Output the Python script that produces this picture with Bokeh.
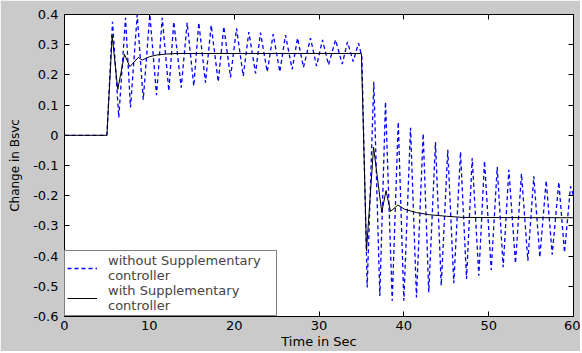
from bokeh.plotting import figure
from bokeh.models import Range1d, FixedTicker, LinearAxis, Legend, LegendItem
from bokeh.embed import file_html
from bokeh.resources import INLINE

# ---- data ----
x_ticks = [0, 10, 20, 30, 40, 50, 60]
x_tick_labels = ["0", "10", "20", "30", "40", "50", "60"]
y_ticks = [-0.6, -0.5, -0.4, -0.3, -0.2, -0.1, 0.0, 0.1, 0.2, 0.3, 0.4]
y_tick_labels = ["-0.6", "-0.5", "-0.4", "-0.3", "-0.2", "-0.1", "0", "0.1", "0.2", "0.3", "0.4"]

# without supplementary controller (blue dashed) : peaks / troughs
t_without = [0, 5.0, 5.66, 6.40, 7.19, 7.78, 8.57, 9.28, 10.06, 10.85, 11.52, 12.30,
             12.88, 13.76, 14.46, 15.24, 15.83, 16.62, 17.29, 18.12, 18.78, 19.57,
             20.28, 21.07, 21.73, 22.52, 23.10, 23.90, 24.60, 25.38, 26.05, 26.84,
             27.47, 28.17, 29.00, 29.71, 30.41, 31.12, 31.95, 32.74, 33.36, 34.03,
             34.66, 35.05, 35.68, 36.46, 37.17, 37.84, 38.63, 39.34, 40.00, 40.79,
             41.49, 42.28, 42.94, 43.73, 44.41, 45.18, 45.89, 46.68, 47.39, 48.06,
             48.84, 49.51, 50.30, 51.01, 51.71, 52.38, 53.16, 53.87, 54.62, 55.32,
             56.03, 56.78, 57.49, 58.27, 58.94, 59.65, 60.0]
v_without = [0, 0, 0.376, 0.059, 0.389, 0.092, 0.399, 0.118, 0.400, 0.133, 0.389, 0.147,
             0.376, 0.158, 0.373, 0.163, 0.373, 0.174, 0.365, 0.177, 0.360, 0.192,
             0.354, 0.196, 0.342, 0.205, 0.340, 0.210, 0.335, 0.210, 0.332, 0.218,
             0.322, 0.225, 0.322, 0.229, 0.316, 0.233, 0.316, 0.236, 0.309, 0.244,
             0.305, 0.260, -0.504, 0.177, -0.532, 0.111, -0.548, 0.044, -0.548, 0.025,
             -0.537, 0.006, -0.520, -0.022, -0.498, -0.048, -0.490, -0.055, -0.476, -0.075,
             -0.465, -0.085, -0.446, -0.105, -0.437, -0.114, -0.424, -0.127, -0.415, -0.136,
             -0.404, -0.150, -0.395, -0.155, -0.388, -0.169, -0.200]

# with supplementary controller (black solid)
t_with = [0, 5.0, 5.62, 6.28, 7.07, 7.70, 8.70, 9.16, 10.0, 10.9, 12.0, 13.3,
          35.0, 35.6, 36.43, 37.4, 37.9, 38.43, 39.3, 40.1, 41.5, 43.0, 45.0, 47.0, 60.0]
v_with = [0, 0, 0.330, 0.152, 0.268, 0.227, 0.258, 0.249, 0.260, 0.266, 0.269, 0.271,
          0.271, -0.382, -0.039, -0.255, -0.183, -0.252, -0.231, -0.245, -0.256, -0.263,
          -0.268, -0.272, -0.273]

label_without = "without Supplementary\ncontroller"
label_with = "with Supplementary\ncontroller"

FONT = "DejaVu Sans"
GRAY = "#cacaca"

p = figure(width=580, height=351, output_backend="svg", toolbar_location=None,
           x_range=Range1d(0, 60), y_range=Range1d(-0.6, 0.4),
           min_border_left=64, min_border_right=7, min_border_top=14, min_border_bottom=35,
           background_fill_color="white", border_fill_color=GRAY,
           outline_line_color="black", outline_line_width=1)
p.grid.visible = False

xa = p.xaxis[0]
xa.ticker = FixedTicker(ticks=x_ticks)
xa.major_label_overrides = dict(zip(x_ticks, x_tick_labels))
xa.axis_label = "Time in Sec"
ya = p.yaxis[0]
ya.ticker = FixedTicker(ticks=y_ticks)
ya.major_label_overrides = dict(zip(y_ticks, y_tick_labels))
ya.axis_label = "Change in Bsvc"

for ax in (xa, ya):
    ax.major_tick_in = 5
    ax.major_tick_out = 0
    ax.minor_tick_line_color = None
    ax.axis_line_color = None
    ax.major_tick_line_color = "black"
    ax.major_label_text_font = FONT
    ax.major_label_text_font_size = "13px"
    ax.major_label_text_color = "black"
    ax.axis_label_text_font = FONT
    ax.axis_label_text_font_style = "normal"
    ax.axis_label_text_color = "black"
xa.axis_label_text_font_size = "13px"
ya.axis_label_text_font_size = "12px"
xa.major_label_standoff = 4
xa.axis_label_standoff = 1
ya.major_label_standoff = 6
ya.axis_label_standoff = 8

# tick marks on top and right sides (box style), no labels
for side, ticks in (("above", x_ticks), ("right", y_ticks)):
    ax = LinearAxis(ticker=FixedTicker(ticks=ticks), major_label_text_font_size="0px",
                    major_label_text_color=None, major_label_standoff=0,
                    axis_line_color=None, major_tick_in=5, major_tick_out=0,
                    minor_tick_line_color=None, major_tick_line_color="black")
    p.add_layout(ax, side)

r1 = p.line(t_without, v_without, line_color="#0000ff", line_dash="4 3", line_width=1.3)
r2 = p.line(t_with, v_with, line_color="black", line_width=1)

legend = Legend(items=[LegendItem(label=label_without, renderers=[r1]),
                       LegendItem(label=label_with, renderers=[r2])],
                location="bottom_left", margin=0, padding=2, spacing=0,
                border_line_color="black", border_line_width=1,
                background_fill_color="white", background_fill_alpha=1,
                label_text_font=FONT, label_text_font_size="13px",
                label_text_line_height=0.9, glyph_width=30, glyph_height=14,
                label_standoff=11, label_width=166)
p.add_layout(legend)

open("out.html", "w").write(file_html(p, INLINE))
